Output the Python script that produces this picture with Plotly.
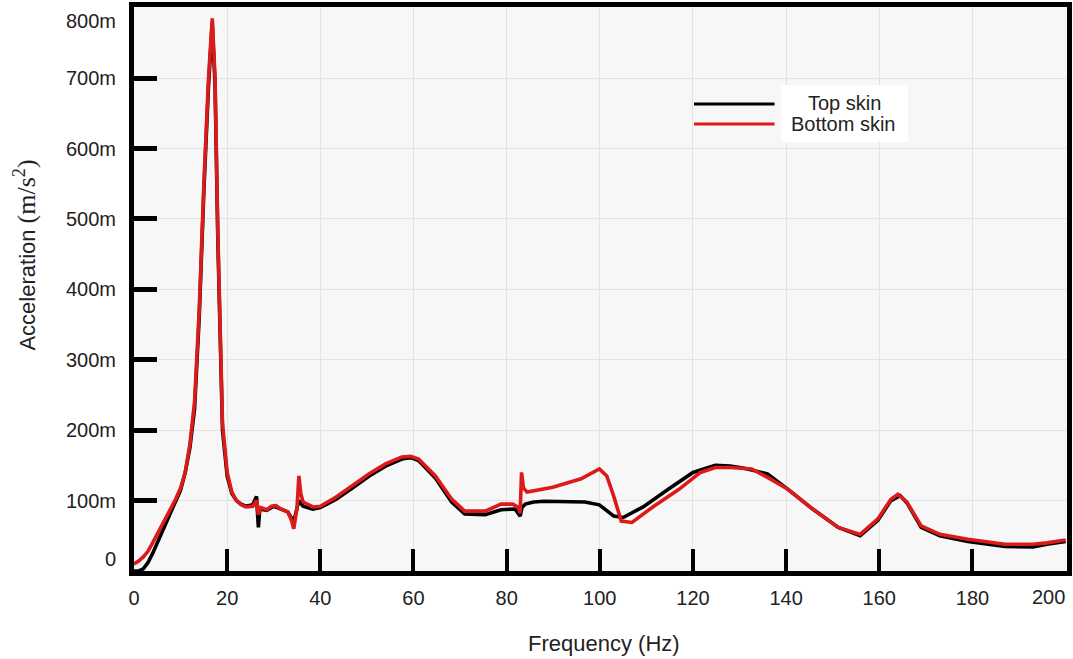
import plotly.graph_objects as go

# ---------------- data (acceleration in milli m/s^2) ----------------
top_freq = [0, 1, 2, 3, 4, 5, 6, 7, 8, 9, 10, 11, 12, 13, 14, 15, 16, 16.8, 17.4, 18, 18.5, 19, 20, 21, 22, 23, 24,
            25.5, 26.3, 26.5, 26.7, 27, 28.5, 30, 31.5, 33, 34.3, 35.4, 36.3, 38.4, 40, 43.4, 46.9, 50.5, 54, 57.5,
            59.4, 61.1, 64.7, 68.2, 71, 75.4, 78.8, 81.8, 82.9, 83.3, 84, 85.8, 88, 96.8, 99.9, 103, 105, 109.3,
            114.7, 120, 124.8, 128, 131, 136, 140.4, 145.7, 151.2, 155.9, 159.7, 162.5, 164.5, 166, 169, 173, 179,
            187, 193, 196, 200]
top_acc = [0, 0, 3, 12, 25, 40, 55, 70, 85, 100, 115, 140, 175, 230, 360, 540, 690, 778, 690, 470, 310, 200, 135,
           110, 100, 95, 92, 94, 106, 90, 62, 88, 86, 92, 88, 84, 70, 100, 92, 88, 90, 102, 118, 135, 149, 159,
           161, 157, 132, 98, 81, 80, 87, 88, 78, 90, 95, 98, 99, 98, 94, 78, 76, 91, 116, 140, 150, 149, 146, 138,
           116, 88, 62, 50, 72, 100, 107, 96, 62, 50, 42, 35, 34, 38, 42]

bottom_freq = [0, 1, 2, 3, 4, 5, 6, 7, 8, 9, 10, 11, 12, 13, 14, 15, 16, 16.8, 17.4, 18, 18.5, 19, 20, 21, 22, 23,
               24, 25.5, 26.3, 26.7, 27.2, 28.5, 29.5, 30.5, 31.5, 33, 33.8, 34.3, 35.0, 35.4, 35.8, 36.3, 38.4, 40,
               43.4, 46.9, 50.5, 54, 57.5, 59.4, 61.1, 64.7, 68.2, 71, 75.4, 78.8, 81.3, 82.6, 82.9, 83.2, 83.6,
               84.4, 89.9, 96, 99.9, 101.5, 103, 104.6, 106.9, 111.6, 117, 121.6, 124.8, 128, 132.6, 136, 140.4,
               145.7, 151.2, 155.9, 159.7, 162.5, 164, 165.9, 169, 173, 179, 187, 193, 196, 199.4, 200]
bottom_acc = [10, 14, 20, 28, 40, 52, 65, 78, 90, 103, 118, 140, 180, 240, 370, 550, 700, 785, 700, 480, 320, 210,
              140, 112, 100, 94, 91, 92, 100, 80, 90, 87, 92, 93, 88, 84, 72, 60, 90, 135, 110, 98, 91, 92, 105,
              121, 138, 152, 162, 163, 159, 135, 102, 85, 85, 95, 95, 90, 82, 140, 118, 112, 119, 131, 145, 135,
              106, 71, 69, 92, 116, 140, 147, 147, 145, 133, 116, 88, 62, 52, 74, 102, 109, 98, 64, 52, 45, 38, 38,
              40, 43, 44]

series_names = ["Top skin", "Bottom skin"]
x_label_vals = [0, 20, 40, 60, 80, 100, 120, 140, 160, 180, 200]
x_label_text = ["0", "20", "40", "60", "80", "100", "120", "140", "160", "180", "200"]
x_tick_marks = [20, 40, 60, 80, 100, 120, 140, 160, 180]
y_label_vals = [0, 100, 200, 300, 400, 500, 600, 700, 800]
y_label_text = ["0", "100m", "200m", "300m", "400m", "500m", "600m", "700m", "800m"]
y_tick_marks = [100, 200, 300, 400, 500, 600, 700]

# ---------------- layout geometry ----------------
W, H = 1073, 659
L, R, T, B = 134, 1, 7, 88
PW, PH = W - L - R, H - T - B


def px(x):
    return (x - L) / PW


def py(y):
    return 1 - (y - T) / PH


BLACK = "#000000"
RED = "#dd1a1a"
TXT = "#222222"

fig = go.Figure()
fig.add_trace(go.Scatter(x=top_freq, y=top_acc, mode="lines", name=series_names[0],
                         line=dict(color=BLACK, width=3.6), showlegend=False))
fig.add_trace(go.Scatter(x=bottom_freq, y=bottom_acc, mode="lines", name=series_names[1],
                         line=dict(color=RED, width=3.6), showlegend=False))

shapes = [
    # legend box and sample lines
    dict(type="rect", xref="paper", yref="paper", x0=px(785), x1=px(912), y0=py(142), y1=py(85),
         fillcolor="white", line=dict(width=0), layer="above"),
    dict(type="line", xref="paper", yref="paper", x0=px(697), x1=px(778), y0=py(104), y1=py(104),
         line=dict(color=BLACK, width=3), layer="above"),
    dict(type="line", xref="paper", yref="paper", x0=px(697), x1=px(778), y0=py(124), y1=py(124),
         line=dict(color=RED, width=3), layer="above"),
]

annotations = [
    dict(text=series_names[0], xref="paper", yref="paper", x=px(848), y=py(103), showarrow=False,
         xanchor="center", yanchor="middle", font=dict(size=20, color=TXT, family="Liberation Sans")),
    dict(text=series_names[1], xref="paper", yref="paper", x=px(847), y=py(124), showarrow=False,
         xanchor="center", yanchor="middle", font=dict(size=20, color=TXT, family="Liberation Sans")),
    dict(text="Acceleration <span style=\"font-family:'Liberation Serif';font-size:26px\">(m/s<sup>2</sup>)</span>",
         xref="paper", yref="paper", x=px(25), y=py(255), showarrow=False, textangle=-90,
         xanchor="center", yanchor="middle", font=dict(size=22, color=TXT, family="Liberation Sans")),
    dict(text="Frequency (Hz)", xref="paper", yref="paper", x=px(607), y=py(643), showarrow=False,
         xanchor="center", yanchor="middle", font=dict(size=22, color=TXT, family="Liberation Sans")),
    # edge tick labels, nudged inside the page as in the reference
    dict(text=y_label_text[-1], xref="paper", yref="paper", x=px(118), y=py(21), showarrow=False,
         xanchor="right", yanchor="middle", font=dict(size=20, color=TXT, family="Liberation Sans")),
    dict(text=y_label_text[0], xref="paper", yref="paper", x=px(118), y=py(559), showarrow=False,
         xanchor="right", yanchor="middle", font=dict(size=20, color=TXT, family="Liberation Sans")),
    dict(text=x_label_text[-1], xref="paper", yref="paper", x=px(1053), y=py(597), showarrow=False,
         xanchor="center", yanchor="middle", font=dict(size=20, color=TXT, family="Liberation Sans")),
]

fig.update_layout(
    width=W, height=H,
    margin=dict(l=L, r=R, t=T, b=B, pad=0),
    paper_bgcolor="white", plot_bgcolor="#f7f7f7",
    shapes=shapes, annotations=annotations,
    showlegend=False,
    font=dict(family="Liberation Sans", color=TXT),
    xaxis=dict(range=[0, 200.3], tickmode="array", tickvals=x_label_vals[:-1], ticktext=x_label_text[:-1],
               ticks="", showline=True, linewidth=5, linecolor=BLACK, mirror=True,
               showgrid=True, gridcolor="#e3e3e3", gridwidth=1, zeroline=False,
               tickfont=dict(size=20, color=TXT), ticklabelstandoff=5,
               minor=dict(tickmode="array", tickvals=x_tick_marks, ticks="inside", ticklen=22,
                          tickwidth=4, tickcolor=BLACK, showgrid=False)),
    yaxis=dict(range=[0, 801], tickmode="array", tickvals=y_label_vals[1:-1], ticktext=y_label_text[1:-1],
               ticks="", showline=True, linewidth=5, linecolor=BLACK, mirror=True,
               showgrid=True, gridcolor="#e3e3e3", gridwidth=1, zeroline=False,
               tickfont=dict(size=20, color=TXT), ticklabelstandoff=9,
               minor=dict(tickmode="array", tickvals=y_tick_marks, ticks="inside", ticklen=23,
                          tickwidth=5, tickcolor=BLACK, showgrid=False)),
)

fig.write_html("out.html", config={"displayModeBar": False},
               post_script="document.body.style.margin='0';document.body.style.overflow='hidden';")
